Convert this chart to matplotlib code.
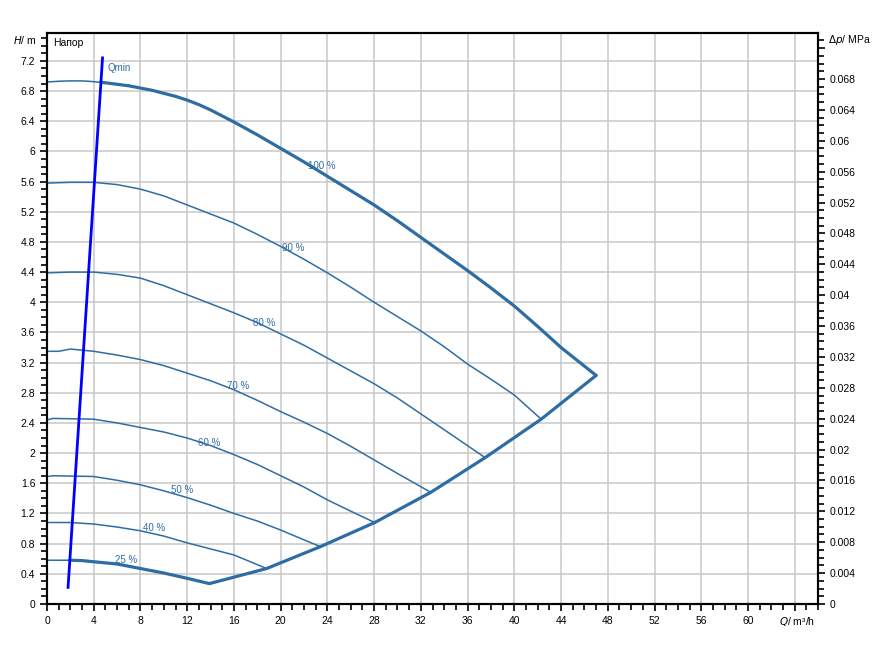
import numpy as np
import matplotlib
matplotlib.use('Agg')
import matplotlib.pyplot as plt
from matplotlib.ticker import MultipleLocator, FuncFormatter

plt.rcParams['font.family'] = ['Liberation Sans', 'DejaVu Sans']

# pump curves at different speeds (Q in m3/h, H in m)
q100 = [0, 1, 2, 3, 4, 5, 6, 7, 8, 9, 10, 11, 12, 13, 14, 15, 16, 18, 20, 22, 24, 26, 28,
        30, 32, 34, 36, 38, 40, 42, 44, 47.0]
h100 = [6.92, 6.93, 6.935, 6.935, 6.925, 6.91, 6.89, 6.87, 6.84, 6.81, 6.77, 6.73, 6.68,
        6.62, 6.55, 6.47, 6.39, 6.22, 6.04, 5.86, 5.67, 5.48, 5.29, 5.08, 4.86, 4.64, 4.42,
        4.19, 3.95, 3.68, 3.40, 3.03]
q90 = [0, 2, 4, 6, 8, 10, 12, 14, 16, 18, 20, 22, 24, 26, 28, 30, 32, 34, 36, 38, 40, 42.3]
h90 = [5.58, 5.59, 5.59, 5.56, 5.50, 5.41, 5.29, 5.17, 5.05, 4.90, 4.74, 4.57, 4.39, 4.20,
       4.00, 3.81, 3.62, 3.41, 3.18, 2.98, 2.77, 2.45]
q80 = [0, 2, 4, 6, 8, 10, 12, 14, 16, 18, 20, 22, 24, 26, 28, 30, 32, 34, 37.5]
h80 = [4.39, 4.40, 4.40, 4.37, 4.32, 4.22, 4.10, 3.98, 3.86, 3.73, 3.58, 3.43, 3.26, 3.09,
       2.92, 2.73, 2.52, 2.31, 1.94]
q70 = [0, 1, 2, 4, 6, 8, 10, 12, 14, 16, 18, 20, 22, 24, 26, 28, 30, 32.85]
h70 = [3.35, 3.35, 3.38, 3.35, 3.30, 3.24, 3.16, 3.06, 2.96, 2.84, 2.70, 2.55, 2.41, 2.26,
       2.09, 1.91, 1.73, 1.48]
q60 = [0, 0.5, 4, 6, 8, 10, 12, 14, 16, 18, 20, 22, 24, 26, 28.05]
h60 = [2.44, 2.46, 2.45, 2.40, 2.34, 2.28, 2.20, 2.10, 1.98, 1.85, 1.70, 1.55, 1.38, 1.23, 1.08]
q50 = [0, 0.5, 4, 6, 8, 10, 12, 14, 16, 18, 20, 22, 23.4]
h50 = [1.69, 1.70, 1.69, 1.64, 1.58, 1.50, 1.41, 1.31, 1.20, 1.10, 0.98, 0.85, 0.76]
q40 = [0, 2, 4, 6, 8, 10, 12, 14, 16, 18.8]
h40 = [1.08, 1.08, 1.06, 1.02, 0.97, 0.90, 0.81, 0.73, 0.65, 0.47]
q25 = [0, 2, 3, 4, 5, 6, 7, 8, 10, 12, 13.9]
h25 = [0.58, 0.58, 0.575, 0.56, 0.545, 0.53, 0.50, 0.47, 0.41, 0.34, 0.27]

curves = [(q100, h100, '100 %'), (q90, h90, '90 %'), (q80, h80, '80 %'),
          (q70, h70, '70 %'), (q60, h60, '60 %'), (q50, h50, '50 %'),
          (q40, h40, '40 %'), (q25, h25, '25 %')]

# label anchor points
lab_q = [22.3, 20.15, 17.6, 15.4, 12.95, 10.6, 8.2, 5.8]
lab_h = [5.81, 4.72, 3.73, 2.89, 2.13, 1.51, 1.01, 0.58]

# system (max) curve through end points
qsys = [13.9, 18.8, 23.4, 28.05, 32.85, 37.5, 42.3, 47.0]
hsys = [0.27, 0.47, 0.76, 1.08, 1.48, 1.94, 2.45, 3.03]

# Qmin line
qmin_q = [1.8, 4.75]
qmin_h = [0.22, 7.24]

rho_g = 0.00977  # MPa per m
col = '#2e6da4'

fig = plt.figure(figsize=(8.96, 6.56), dpi=100)
ax = fig.add_axes([0.0525, 0.0793, 0.8605, 0.8704])

for (q, h, lab), lq, lh in zip(curves, lab_q, lab_h):
    ax.plot(q, h, color=col, lw=1.1, zorder=3)
    ax.text(lq, lh, lab, color=col, fontsize=7, va='center', ha='left', zorder=4)

# thick boundary parts right of Qmin
for q, h in [(q100, h100), (q25, h25)]:
    q = np.array(q)
    h = np.array(h)
    qq = np.interp(h, qmin_h, qmin_q)
    keep = q >= qq
    i0 = np.argmax(keep)
    qs = np.concatenate([[qq[i0]], q[keep]])
    hs = np.concatenate([[np.interp(qq[i0], q, h)], h[keep]])
    ax.plot(qs, hs, color=col, lw=2.3, zorder=3, solid_capstyle='round')
ax.plot(qsys, hsys, color=col, lw=2.3, zorder=3, solid_capstyle='round')

ax.plot(qmin_q, qmin_h, color='#0000ff', lw=2.0, zorder=5)
ax.text(5.15, 7.11, 'Qmin', color=col, fontsize=7, va='center', ha='left')
ax.text(0.5, 7.44, 'Напор', color='black', fontsize=7.5, va='center', ha='left')

ax.set_xlim(0, 66)
ax.set_ylim(0, 7.57)
ax.xaxis.set_major_locator(MultipleLocator(4))
ax.xaxis.set_minor_locator(MultipleLocator(1))
ax.yaxis.set_major_locator(MultipleLocator(0.4))
ax.yaxis.set_minor_locator(MultipleLocator(0.1))


def fmt(v, nd):
    s = '%.*f' % (nd, v)
    if '.' in s:
        s = s.rstrip('0').rstrip('.')
    return s


ax.xaxis.set_major_formatter(FuncFormatter(lambda v, p: '' if v > 61 else fmt(v, 0)))
ax.yaxis.set_major_formatter(FuncFormatter(lambda v, p: '' if v > 7.3 else fmt(v, 1)))
ax.grid(True, which='major', color='#c8c8c8', lw=1.1)
ax.set_axisbelow(True)
for s in ax.spines.values():
    s.set_linewidth(1.5)
ax.tick_params(which='major', length=5, width=1.2, labelsize=7.5, direction='out', top=False)
ax.tick_params(which='minor', length=4, width=1.2, direction='out', top=False)

ax2 = ax.twinx()
ax2.set_ylim(0, 7.57 * rho_g)
ax2.yaxis.set_major_locator(MultipleLocator(0.004))
ax2.yaxis.set_minor_locator(MultipleLocator(0.001))
ax2.yaxis.set_major_formatter(FuncFormatter(lambda v, p: '' if v > 0.0705 else fmt(v, 3)))
ax2.tick_params(which='major', length=5, width=1.2, labelsize=7.5, direction='out')
ax2.tick_params(which='minor', length=4, width=1.2, direction='out')
for s in ax2.spines.values():
    s.set_linewidth(1.5)

fig.text(13 / 896, 1 - 40 / 656, '$\\it{H}$/ m', fontsize=7.5, va='center', ha='left')
fig.text(828 / 896, 1 - 40 / 656, '$\\Delta\\it{p}$/ MPa', fontsize=7.5, va='center', ha='left')
fig.text(815 / 896, 1 - 622 / 656, '$\\it{Q}$/ m³/h', fontsize=7.5, va='center', ha='right')

fig.savefig('out.png', dpi=100)
